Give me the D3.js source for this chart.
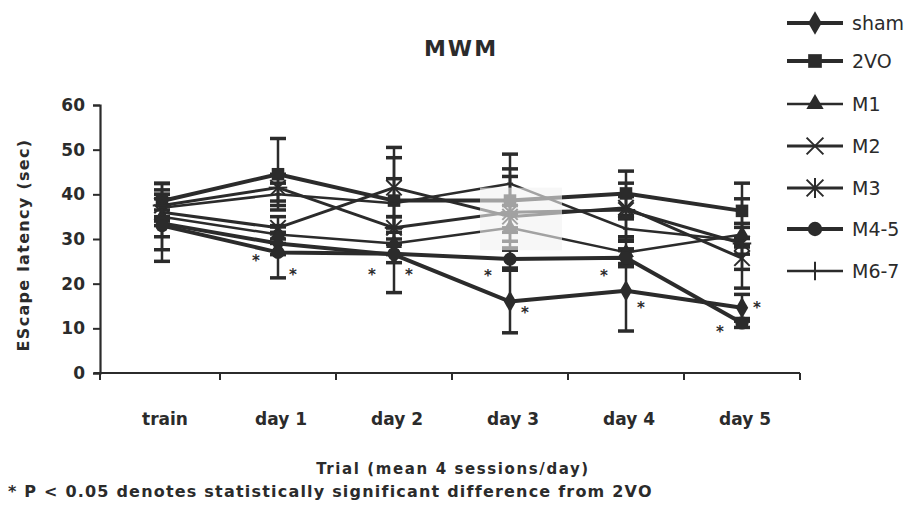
<!DOCTYPE html>
<html>
<head>
<meta charset="utf-8">
<script src="https://cdn.jsdelivr.net/npm/d3@7/dist/d3.min.js"></script>
<style>
  html, body { margin: 0; padding: 0; background: #fff; }
  svg { display: block; }
  text { font-family: "DejaVu Sans", "Open Sans", sans-serif; fill: #2b2b2b; }
</style>
</head>
<body>
<svg id="chart" width="914" height="518"></svg>
<script>
// Morris water maze: escape latency per trial day, group means with error bars
const categories = ["train", "day 1", "day 2", "day 3", "day 4", "day 5"];
const yTicks = [0, 10, 20, 30, 40, 50, 60];

const groupNames = ["sham", "2VO", "M1", "M2", "M3", "M4-5", "M6-7"];

// mean escape latency (sec)
const shamMean = [33.5, 29, 26.5, 16, 18.4, 14.6];
const vo2Mean  = [38.5, 44.5, 38.6, 38.6, 40.2, 36.3];
const m1Mean   = [35, 31, 29, 32.5, 27, 31];
const m2Mean   = [36, 32.5, 41.5, 35, 37, 25.7];
const m3Mean   = [37.5, 41.5, 32.5, 36, 36.5, 29];
const m45Mean  = [33, 27, 26.7, 25.5, 25.8, 11.2];
const m67Mean  = [37, 40, 38, 42.4, 32.3, 29.6];

// error (± sec)
const shamErr = [3, 2.5, 8.5, 7, 9, 3];
const vo2Err  = [4, 8, 9.6, 7.1, 5, 6.2];
const m1Err   = [7.4, 2, 2.5, 3, 2.5, 2.5];
const m2Err   = [3, 2.5, 9, 2.5, 2.5, 2.5];
const m3Err   = [2.5, 3, 2.5, 8, 6, 10];
const m45Err  = [8, 5.7, 2, 2, 2, 1];
const m67Err  = [3, 2.5, 5.5, 6.6, 2.5, 3];

// significance asterisks: day, latency value at which the mark sits, side of the bar
const starDays   = ["day 1", "day 1", "day 2", "day 2", "day 3", "day 3", "day 4", "day 4", "day 5", "day 5"];
const starValues = [25.6, 22.4, 22.4, 22.4, 22.2, 13.9, 22.2, 15, 9.6, 15];
const starSides  = ["left", "right", "left", "right", "left", "right", "left", "right", "left", "right"];

const means = [shamMean, vo2Mean, m1Mean, m2Mean, m3Mean, m45Mean, m67Mean];
const errs  = [shamErr, vo2Err, m1Err, m2Err, m3Err, m45Err, m67Err];
const markerKinds = ["diamond", "square", "triangle", "x", "asterisk", "circle", "plus"];
const lineWidths  = [4, 4, 2.5, 3, 3, 4, 2.5];

const series = groupNames.map((name, i) => ({
  name,
  kind: markerKinds[i],
  width: lineWidths[i],
  points: categories.map((c, j) => ({ cat: c, mean: means[i][j], err: errs[i][j] }))
}));

const ink = "#2b2b2b";
const svg = d3.select("#chart");

const x = d3.scaleBand().domain(categories).range([104, 800]);
const y = d3.scaleLinear().domain([0, 60]).range([373, 105]);
const cx = c => x(c) + x.bandwidth() / 2;

// title
svg.append("text").attr("x", 461).attr("y", 56)
  .attr("text-anchor", "middle").attr("font-size", 22).attr("font-weight", "bold")
  .attr("letter-spacing", 2)
  .text("MWM");

// y axis
const yAxis = svg.append("g").attr("transform", "translate(100,0)")
  .call(d3.axisLeft(y).tickValues(yTicks).tickSize(7).tickPadding(8));
yAxis.select(".domain").attr("stroke", ink).attr("stroke-width", 2.2);
yAxis.selectAll(".tick line").attr("stroke", ink).attr("stroke-width", 2);
yAxis.selectAll(".tick text").attr("font-size", 17).attr("font-weight", "bold").attr("fill", ink);

// x axis: baseline with ticks on category boundaries
const xg = svg.append("g");
xg.append("line").attr("x1", 94).attr("x2", x.range()[1])
  .attr("y1", y(0)).attr("y2", y(0)).attr("stroke", ink).attr("stroke-width", 2.2);
xg.selectAll("line.tk").data(categories).join("line")
  .attr("class", "tk")
  .attr("x1", (d, i) => x(d) + x.step())
  .attr("x2", (d, i) => x(d) + x.step())
  .attr("y1", y(0)).attr("y2", y(0) + 7)
  .attr("stroke", ink).attr("stroke-width", 2);
xg.append("line").attr("x1", 100).attr("x2", 100).attr("y1", y(0)).attr("y2", y(0) + 7)
  .attr("stroke", ink).attr("stroke-width", 2);
xg.selectAll("text.cat").data(categories).join("text")
  .attr("class", "cat")
  .attr("x", d => cx(d) + 3).attr("y", 425)
  .attr("text-anchor", "middle").attr("font-size", 17).attr("font-weight", "bold")
  .text(d => d);

// axis titles and footnote
svg.append("text")
  .attr("transform", "translate(29,245) rotate(-90)")
  .attr("text-anchor", "middle").attr("font-size", 16).attr("font-weight", "bold")
  .attr("letter-spacing", 1.3)
  .text("EScape latency (sec)");
svg.append("text").attr("x", 453).attr("y", 474)
  .attr("text-anchor", "middle").attr("font-size", 15).attr("font-weight", "bold")
  .attr("letter-spacing", 1.6)
  .text("Trial (mean 4 sessions/day)");
svg.append("text").attr("x", 8).attr("y", 497)
  .attr("font-size", 16).attr("font-weight", "bold")
  .attr("letter-spacing", 1.2)
  .text("* P < 0.05 denotes statistically significant difference from 2VO");

// marker drawing
function drawMarker(g, kind, px, py, s) {
  if (kind === "diamond") {
    g.append("path").attr("transform", `translate(${px},${py})`)
      .attr("d", d3.symbol(d3.symbolDiamond, s * s * 1.1)()).attr("fill", ink);
  } else if (kind === "square") {
    g.append("path").attr("transform", `translate(${px},${py})`)
      .attr("d", d3.symbol(d3.symbolSquare, s * s * 1.3)()).attr("fill", ink);
  } else if (kind === "triangle") {
    g.append("path").attr("transform", `translate(${px},${py})`)
      .attr("d", d3.symbol(d3.symbolTriangle, s * s * 0.9)()).attr("fill", ink);
  } else if (kind === "circle") {
    g.append("circle").attr("cx", px).attr("cy", py).attr("r", s * 0.6).attr("fill", ink);
  } else {
    const r = s * 0.7;
    const segs = [];
    if (kind === "x" || kind === "asterisk") {
      segs.push([-r, -r, r, r], [-r, r, r, -r]);
    }
    if (kind === "asterisk") segs.push([-r * 1.2, 0, r * 1.2, 0], [0, -r * 1.2, 0, r * 1.2]);
    if (kind === "plus") segs.push([0, -r * 1.1, 0, r * 1.1], [-r * 0.4, 0, r * 0.4, 0]);
    segs.forEach(sg => g.append("line")
      .attr("x1", px + sg[0]).attr("y1", py + sg[1]).attr("x2", px + sg[2]).attr("y2", py + sg[3])
      .attr("stroke", ink).attr("stroke-width", 2));
  }
}

const plot = svg.append("g");
const line = d3.line().x(d => cx(d.cat)).y(d => y(d.mean));

// error bars
series.forEach(s => {
  const g = plot.append("g");
  s.points.forEach(p => {
    const px = cx(p.cat);
    g.append("line").attr("x1", px).attr("x2", px)
      .attr("y1", y(p.mean - p.err)).attr("y2", y(p.mean + p.err))
      .attr("stroke", ink).attr("stroke-width", 2.5);
    [p.mean - p.err, p.mean + p.err].forEach(v => g.append("line")
      .attr("x1", px - 8).attr("x2", px + 8).attr("y1", y(v)).attr("y2", y(v))
      .attr("stroke", ink).attr("stroke-width", 3.5));
  });
});

// lines and markers
series.forEach(s => {
  plot.append("path").datum(s.points).attr("d", line)
    .attr("fill", "none").attr("stroke", ink).attr("stroke-width", s.width)
    .attr("stroke-linejoin", "round");
  const g = plot.append("g");
  s.points.forEach(p => drawMarker(g, s.kind, cx(p.cat), y(p.mean), 11));
});

// faded patch of print over the day 3 cluster
svg.append("rect")
  .attr("x", cx("day 3") - 30).attr("y", y(41.5))
  .attr("width", 82).attr("height", y(27.5) - y(41.5))
  .attr("fill", "#f2f2f2").attr("opacity", 0.6);

// significance asterisks
starDays.forEach((d, i) => {
  const dx = starSides[i] === "left" ? -22 : 15;
  svg.append("text").attr("x", cx(d) + dx).attr("y", y(starValues[i]) + 7)
    .attr("text-anchor", "middle").attr("font-size", 15).attr("font-weight", "bold")
    .text("*");
});

// legend
const legend = svg.append("g");
const legendY = [23, 61, 104, 146, 188, 229, 271];
series.forEach((s, i) => {
  const ly = legendY[i];
  legend.append("line").attr("x1", 787).attr("x2", 843).attr("y1", ly).attr("y2", ly)
    .attr("stroke", ink).attr("stroke-width", s.width);
  drawMarker(legend, s.kind, 815, ly, 12);
  legend.append("text").attr("x", 852).attr("y", ly + 7)
    .attr("font-size", 19).text(s.name);
});
</script>
</body>
</html>
